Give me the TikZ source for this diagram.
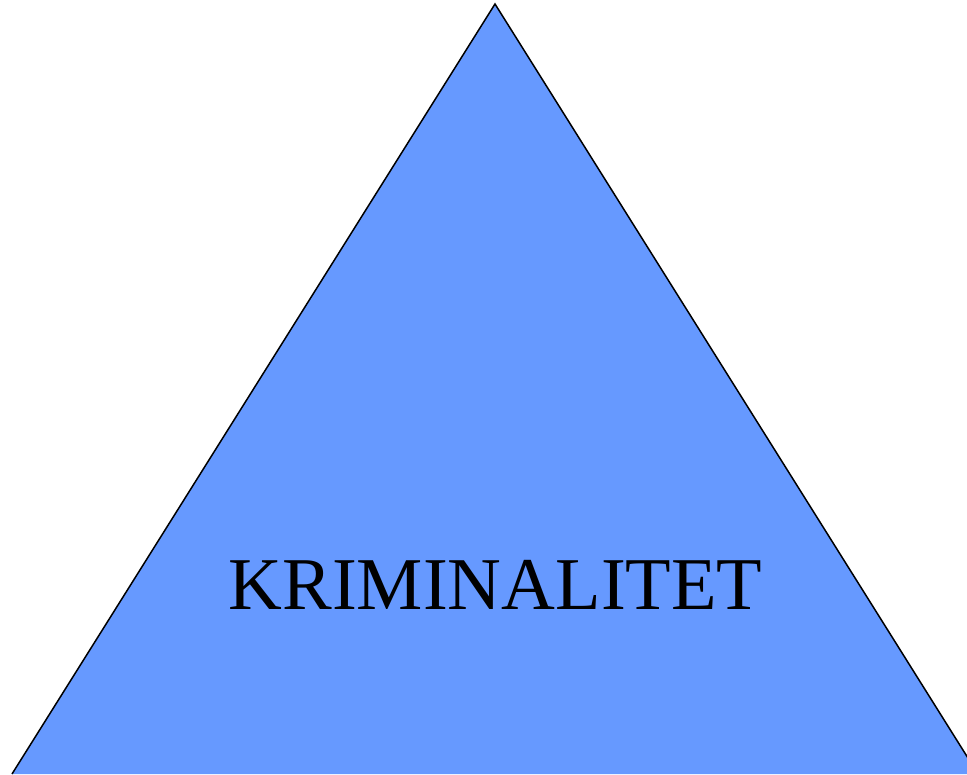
\documentclass[tikz,border=0pt]{standalone}
\usepackage{fontspec}
\setmainfont{Liberation Serif}
\definecolor{triblue}{HTML}{6699FF}
\begin{document}
\begin{tikzpicture}[x=1pt,y=-1pt,
  tri/.style={fill=triblue,draw=black,line width=1.2pt,line join=miter},
  lbl/.style={font=\fontsize{74.5}{74.5}\selectfont,text=black,anchor=base,inner sep=0pt}]
\useasboundingbox (0,0) rectangle (967,775);
\begin{scope}
\clip (0,0) rectangle (967,775);
\path[fill=triblue] (495,4) -- (12,774) -- (978,774) -- cycle;
\draw[line width=1.5pt] (12,774) -- (495,4) -- (978,774);
\end{scope}
\node[lbl] (t) at (495.5,609) {KRIMINALITET};
\end{tikzpicture}
\end{document}
